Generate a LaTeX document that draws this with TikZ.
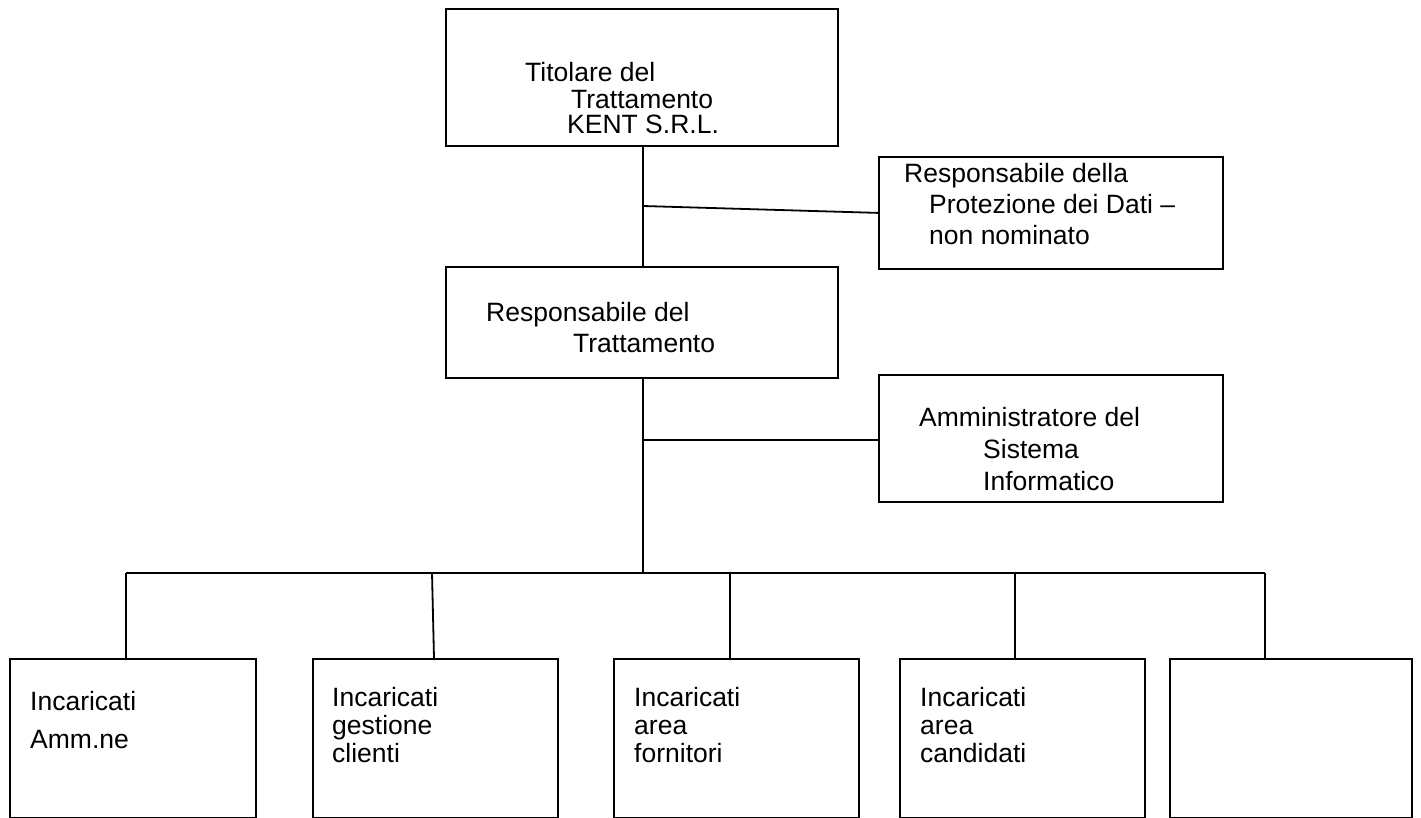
\documentclass[tikz,border=0pt]{standalone}
\usepackage{fontspec}
\setmainfont{Liberation Sans}
\begin{document}
\begin{tikzpicture}[x=1pt,y=-1pt,
  box/.style={draw, line width=1.8pt, inner sep=0pt, anchor=north west},
  lbl/.style={anchor=base west, inner sep=0pt, font=\fontsize{26.5}{30}\selectfont},
  conn/.style={line width=1.8pt}]
\useasboundingbox (0,0) rectangle (1421,818);
% boxes
\node[box, minimum width=392pt, minimum height=137pt] (tit) at (445,8) {};
\node[box, minimum width=344pt, minimum height=112pt] (rpd) at (878,156) {};
\node[box, minimum width=392pt, minimum height=111pt] (rt) at (445,266) {};
\node[box, minimum width=344pt, minimum height=127pt] (amm) at (878,374) {};
\node[box, minimum width=246pt, minimum height=159pt] (b1) at (9,658) {};
\node[box, minimum width=245pt, minimum height=159pt] (b2) at (312,658) {};
\node[box, minimum width=245pt, minimum height=159pt] (b3) at (613,658) {};
\node[box, minimum width=245pt, minimum height=159pt] (b4) at (899,658) {};
\node[box, minimum width=242pt, minimum height=159pt] (b5) at (1169,658) {};
% texts
\node[lbl] (t1) at (525,82) {Titolare del};
\node[lbl] (t2) at (571,109) {Trattamento};
\node[lbl] (t3) at (567,134) {KENT S.R.L.};
\node[lbl] (p1) at (904,183) {Responsabile della};
\node[lbl] (p2) at (929,214) {Protezione dei Dati –};
\node[lbl] (p3) at (929,245) {non nominato};
\node[lbl] (r1) at (486,321) {Responsabile del};
\node[lbl] (r2) at (573,352) {Trattamento};
\node[lbl] (a1) at (919,426) {Amministratore del};
\node[lbl] (a2) at (983,458) {Sistema};
\node[lbl] (a3) at (983,490) {Informatico};
\node[lbl] (i11) at (30,710) {Incaricati};
\node[lbl] (i12) at (30,748) {Amm.ne};
\node[lbl] (i21) at (332,706) {Incaricati};
\node[lbl] (i22) at (332,734) {gestione};
\node[lbl] (i23) at (332,762) {clienti};
\node[lbl] (i31) at (634,706) {Incaricati};
\node[lbl] (i32) at (634,734) {area};
\node[lbl] (i33) at (634,762) {fornitori};
\node[lbl] (i41) at (920,706) {Incaricati};
\node[lbl] (i42) at (920,734) {area};
\node[lbl] (i43) at (920,762) {candidati};
% connectors
\coordinate (j1) at (643,206);
\coordinate (j2) at (643,440);
\coordinate (j3) at (643,573);
\draw[conn] (tit.south -| j1) -- (rt.north -| j1);
\draw[conn] (j1) -- (rpd.west);
\draw[conn] (rt.south -| j3) -- (j3);
\draw[conn] (j2) -- (j2 -| amm.west);
\coordinate (d1) at (126,573);
\coordinate (d2) at (432,573);
\coordinate (e2) at (434,658);
\coordinate (d3) at (730,573);
\coordinate (d4) at (1015,573);
\coordinate (d5) at (1265,573);
\draw[conn] (d1) -- (d5);
\draw[conn] (d1) -- (d1 |- b1.north);
\draw[conn] (d2) -- (e2);
\draw[conn] (d3) -- (d3 |- b3.north);
\draw[conn] (d4) -- (d4 |- b4.north);
\draw[conn] (d5) -- (d5 |- b5.north);
\end{tikzpicture}
\end{document}
